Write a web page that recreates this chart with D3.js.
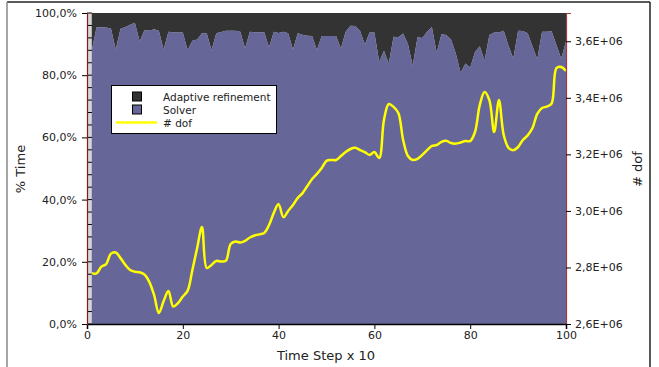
<!DOCTYPE html>
<html>
<head>
<meta charset="utf-8">
<script src="https://cdn.jsdelivr.net/npm/d3@7/dist/d3.min.js"></script>
<style>
  html, body { margin: 0; padding: 0; background: #fff; }
  svg { display: block; font-family: "DejaVu Sans", sans-serif; }
</style>
</head>
<body>
<svg id="chart" width="659" height="367"></svg>
<script>
// ---- data ----
const timeSteps = d3.range(1, 101); // time step x 10 (1..100)
const solverPct = [
  88.0, 95.4, 95.4, 95.3, 95.0, 88.3, 94.9, 95.5, 96.2, 96.9,
  90.8, 94.5, 94.3, 94.8, 94.3, 88.3, 94.0, 93.8, 93.7, 93.7,
  88.1, 91.1, 91.5, 93.5, 93.5, 88.1, 93.5, 93.9, 94.3, 94.3,
  94.3, 94.0, 88.7, 94.0, 93.8, 93.8, 93.8, 89.0, 94.0, 93.6,
  94.0, 93.5, 88.3, 93.5, 93.0, 92.7, 92.6, 88.1, 92.6, 92.6,
  92.6, 92.6, 88.6, 94.0, 95.9, 95.8, 94.3, 89.9, 93.7, 93.7,
  84.3, 87.9, 83.8, 92.4, 92.2, 93.4, 90.0, 83.0, 92.2, 92.0,
  94.0, 95.5, 87.2, 93.2, 92.9, 91.5, 87.0, 80.8, 83.8, 82.5,
  87.5, 89.3, 84.7, 92.9, 93.7, 93.7, 94.3, 89.5, 85.4, 94.3,
  94.2, 93.5, 89.3, 85.1, 94.0, 94.0, 94.1, 89.7, 85.4, 90.8
];
const dof = [
  2.780, 2.779, 2.803, 2.812, 2.849, 2.853, 2.833, 2.809, 2.791, 2.785,
  2.783, 2.775, 2.749, 2.703, 2.639, 2.681, 2.717, 2.662, 2.674, 2.697,
  2.717, 2.791, 2.869, 2.943, 2.798, 2.809, 2.823, 2.821, 2.824, 2.883,
  2.892, 2.888, 2.894, 2.906, 2.913, 2.917, 2.922, 2.950, 2.993, 3.024,
  2.978, 3.000, 3.021, 3.046, 3.063, 3.088, 3.113, 3.131, 3.152, 3.177,
  3.180, 3.180, 3.194, 3.208, 3.219, 3.223, 3.215, 3.208, 3.198, 3.208,
  3.187, 3.322, 3.378, 3.368, 3.346, 3.251, 3.194, 3.180, 3.184, 3.198,
  3.215, 3.230, 3.233, 3.244, 3.248, 3.240, 3.238, 3.242, 3.247, 3.247,
  3.279, 3.375, 3.421, 3.392, 3.279, 3.392, 3.268, 3.223, 3.215, 3.226,
  3.251, 3.267, 3.293, 3.343, 3.364, 3.369, 3.380, 3.505, 3.509, 3.495
].map(v => v * 1e6);

const xTicks = [0, 20, 40, 60, 80, 100];
const yLeftTicks = [0, 20, 40, 60, 80, 100];
const yLeftLabels = ["0,0%", "20,0%", "40,0%", "60,0%", "80,0%", "100,0%"];
const yRightTicks = [2.6e6, 2.8e6, 3.0e6, 3.2e6, 3.4e6, 3.6e6];
const yRightLabels = ["2,6E+06", "2,8E+06", "3,0E+06", "3,2E+06", "3,4E+06", "3,6E+06"];
const minorLeft = d3.range(0, 101, 4);

const legendItems = [
  {label: "Adaptive refinement", type: "box", color: "#333333"},
  {label: "Solver", type: "box", color: "#666699"},
  {label: "# dof", type: "line", color: "#ffff00"}
];

// ---- layout ----
const svg = d3.select("#chart");
const L = 87, R = 566, T = 13, B = 324;

const x = d3.scaleLinear().domain([0, 100]).range([L, R]);
const yL = d3.scaleLinear().domain([0, 100]).range([B, T]);
const yR = d3.scaleLinear().domain([2.6e6, 3.7e6]).range([B, T]);

// figure frame
svg.append("line").attr("x1", 7).attr("x2", 650).attr("y1", 2).attr("y2", 2).attr("stroke", "#222").attr("stroke-width", 1.5);
svg.append("line").attr("x1", 7).attr("x2", 7).attr("y1", 2).attr("y2", 370).attr("stroke", "#888").attr("stroke-width", 1.5);
svg.append("line").attr("x1", 650).attr("x2", 650).attr("y1", 2).attr("y2", 370).attr("stroke", "#222").attr("stroke-width", 1.5);

// plot background
svg.append("rect").attr("x", L).attr("y", T).attr("width", R - L).attr("height", B - T).attr("fill", "#d6d6d6");

// minor ticks inside left
svg.append("g").selectAll("line").data(minorLeft).join("line")
  .attr("x1", L).attr("x2", L + 5)
  .attr("y1", d => yL(d)).attr("y2", d => yL(d))
  .attr("stroke", "#000").attr("stroke-width", 1);

// areas
const rows = timeSteps.map((t, i) => ({t, s: solverPct[i]}));
const areaTop = d3.area().x(d => x(d.t)).y0(d => yL(d.s)).y1(yL(100));
const areaSolver = d3.area().x(d => x(d.t)).y0(yL(0)).y1(d => yL(d.s));
svg.append("path").datum(rows).attr("d", areaTop).attr("fill", "#333333");
svg.append("path").datum(rows).attr("d", areaSolver).attr("fill", "#666699");

// dof line
const line = d3.line().x((d, i) => x(timeSteps[i])).y(d => yR(d)).curve(d3.curveCatmullRom.alpha(0.5));
svg.append("path").datum(dof).attr("d", line).attr("fill", "none").attr("stroke", "#ffff00").attr("stroke-width", 2.5);

// axes
const fontSize = 11;
const gx = svg.append("g").attr("transform", `translate(0,${B})`)
  .call(d3.axisBottom(x).tickValues(xTicks).tickSize(5).tickPadding(2).tickFormat(d3.format("d")));
gx.select(".domain").attr("stroke", "#000").attr("stroke-width", 1.5);
gx.selectAll("text").attr("font-size", fontSize).attr("fill", "#222").attr("font-family", "DejaVu Sans");
gx.selectAll(".tick line").attr("stroke", "#000");

const gl = svg.append("g").attr("transform", `translate(${L},0)`)
  .call(d3.axisLeft(yL).tickValues(yLeftTicks).tickSize(5).tickPadding(5).tickFormat((d, i) => yLeftLabels[i]));
gl.select(".domain").attr("stroke", "#8b1a1a").attr("stroke-width", 1.2);
gl.selectAll("text").attr("font-size", fontSize).attr("fill", "#222").attr("font-family", "DejaVu Sans");
gl.selectAll(".tick line").attr("stroke", "#000");

const gr = svg.append("g").attr("transform", `translate(${R},0)`)
  .call(d3.axisRight(yR).tickValues(yRightTicks).tickSize(5).tickPadding(4).tickFormat((d, i) => yRightLabels[i]));
gr.select(".domain").attr("stroke", "#a03c3c").attr("stroke-width", 1.2);
gr.selectAll("text").attr("font-size", fontSize).attr("fill", "#222").attr("font-family", "DejaVu Sans");
gr.selectAll(".tick line").attr("stroke", "#000");

// axis titles
svg.append("text").attr("x", 326).attr("y", 360).attr("text-anchor", "middle")
  .attr("font-size", 13).attr("fill", "#222").text("Time Step x 10");
svg.append("text").attr("transform", "translate(25,169) rotate(-90)").attr("text-anchor", "middle")
  .attr("font-size", 13).attr("fill", "#222").text("% Time");
svg.append("text").attr("transform", "translate(642,169) rotate(-90)").attr("text-anchor", "middle")
  .attr("font-size", 13).attr("fill", "#222").text("# dof");

// legend
const lg = svg.append("g");
lg.append("rect").attr("x", 111.5).attr("y", 85.5).attr("width", 165).attr("height", 48)
  .attr("fill", "#fff").attr("stroke", "#000").attr("stroke-width", 1);
legendItems.forEach((it, i) => {
  const cy = 96.5 + i * 13;
  if (it.type === "box") {
    lg.append("rect").attr("x", 132.5).attr("y", cy - 4.5).attr("width", 9).attr("height", 9)
      .attr("fill", it.color).attr("stroke", "#000").attr("stroke-width", 1);
  } else {
    lg.append("line").attr("x1", 116).attr("x2", 157).attr("y1", cy).attr("y2", cy)
      .attr("stroke", it.color).attr("stroke-width", 2.5);
  }
  lg.append("text").attr("x", 163).attr("y", cy + 4).attr("font-size", 10.5).attr("fill", "#222").text(it.label);
});
</script>
</body>
</html>
